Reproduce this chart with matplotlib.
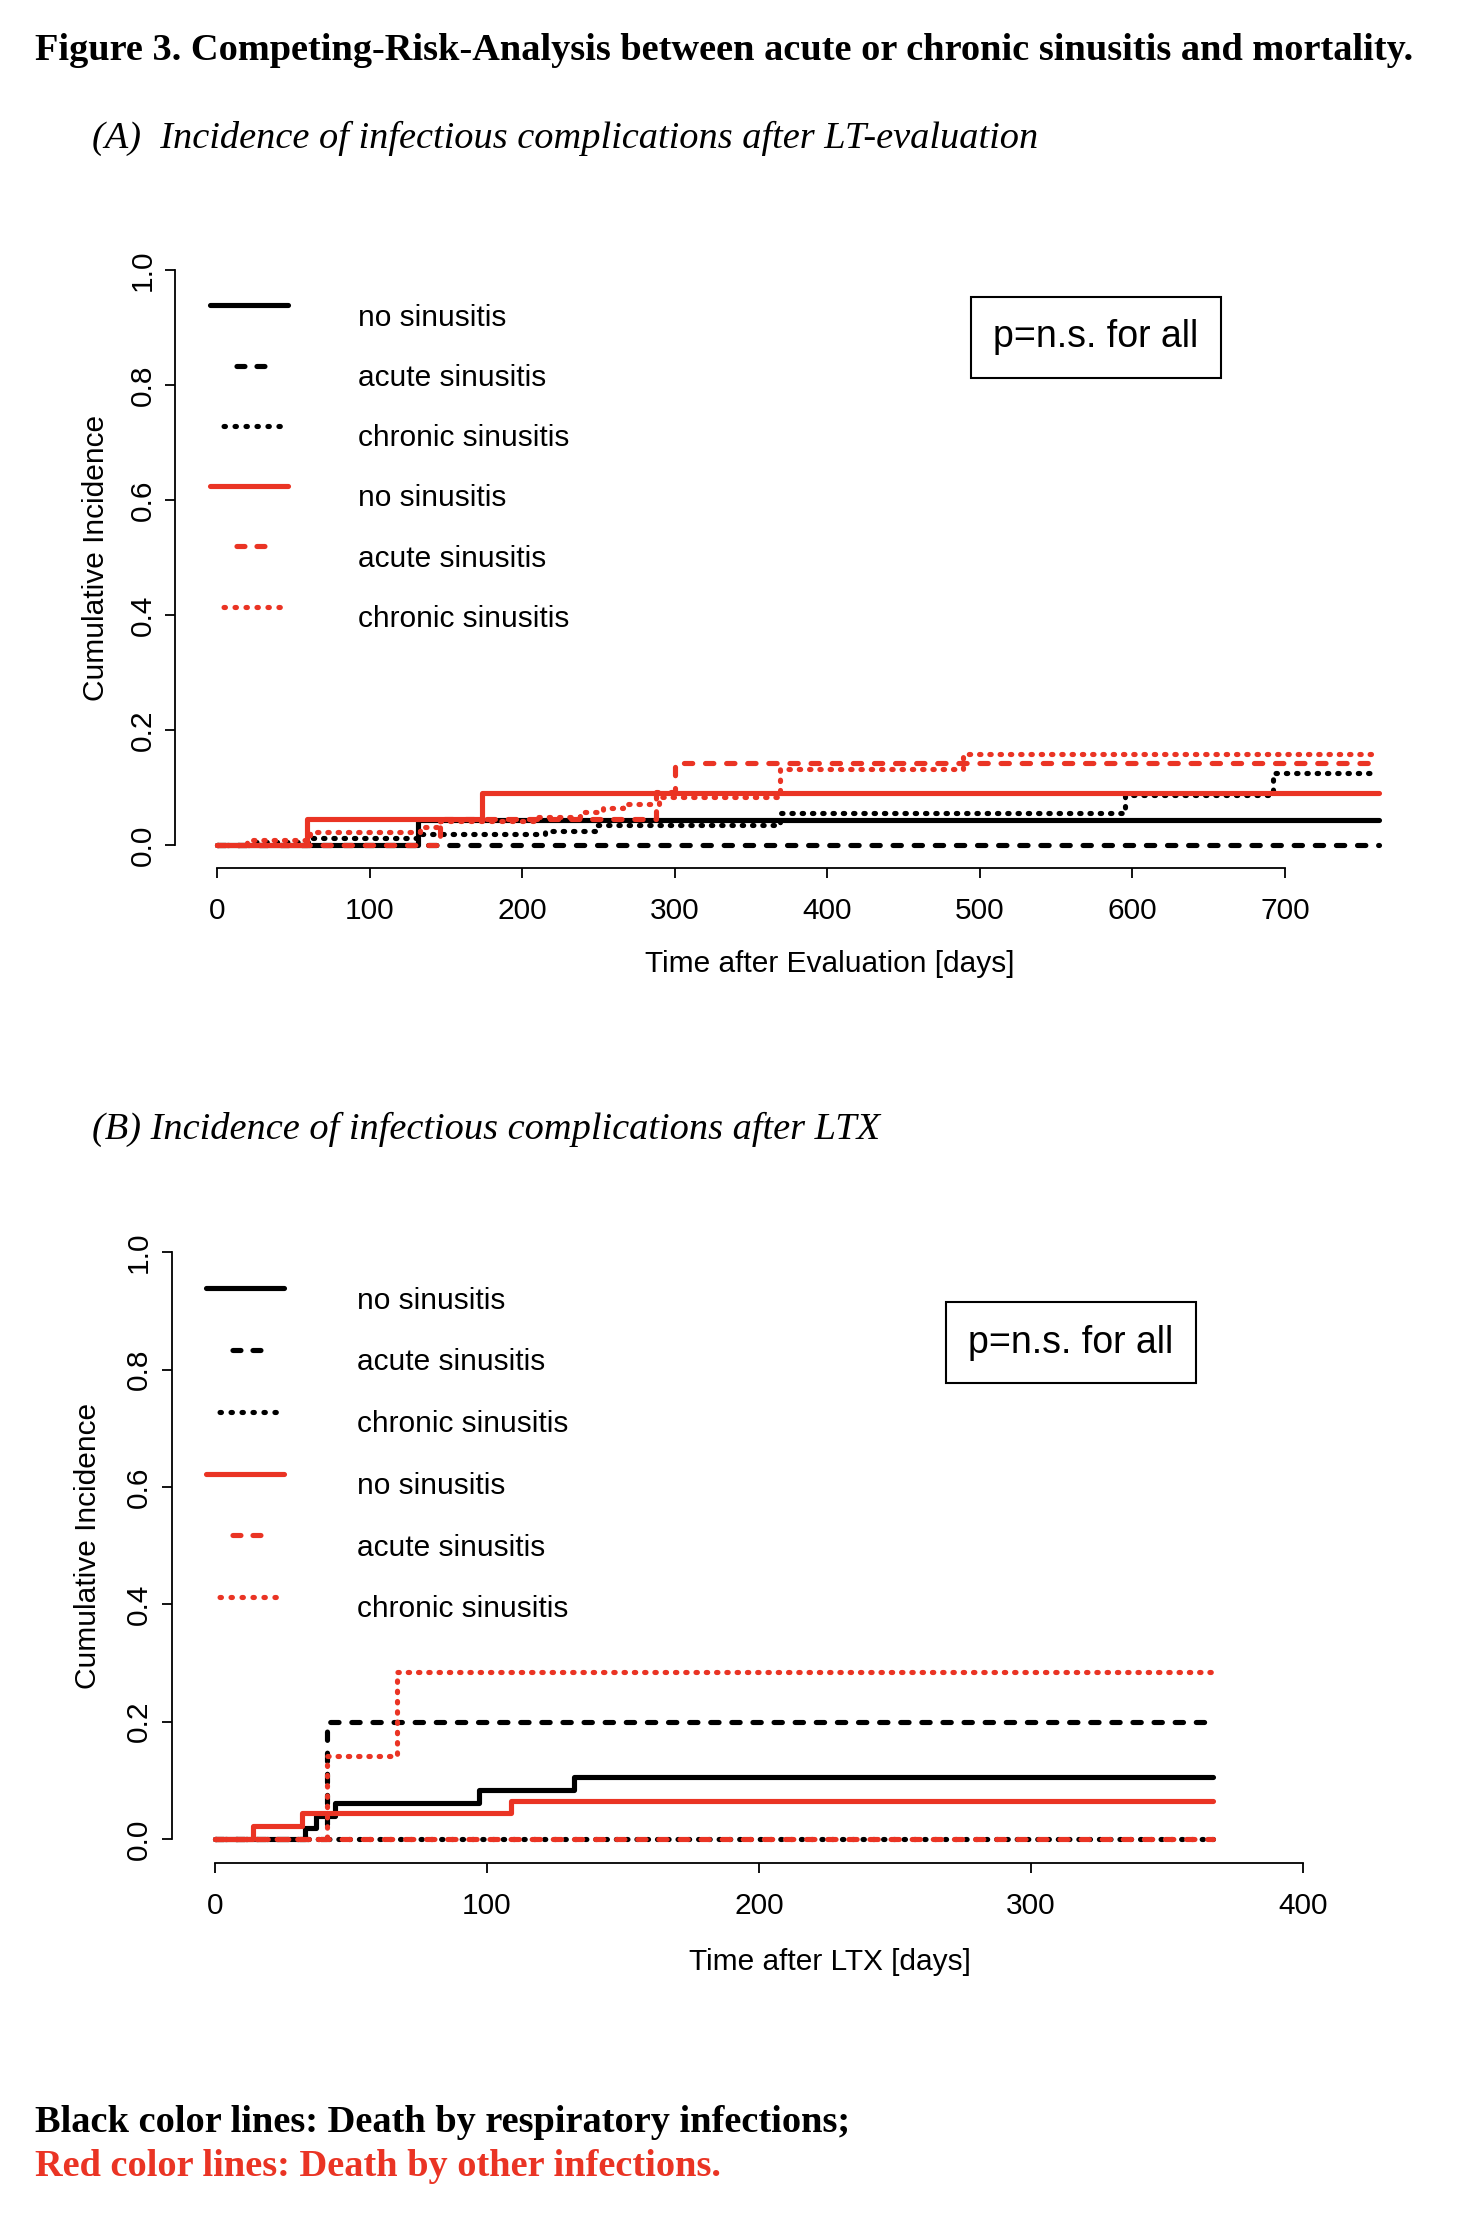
import matplotlib
matplotlib.use("Agg")
import matplotlib.pyplot as plt
from matplotlib.lines import Line2D
from matplotlib.legend_handler import HandlerLine2D

plt.rcParams['font.family'] = ['Liberation Sans', 'DejaVu Sans']
plt.rcParams['lines.scale_dashes'] = False

# ---------------- data ----------------
# Panel A: time after evaluation [days], cumulative incidence
a_black_solid_t = [0, 132, 762]
a_black_solid_v = [0, 0.043, 0.043]
a_black_dashed_t = [0, 762]
a_black_dashed_v = [0, 0]
a_black_dotted_t = [0, 22, 61, 133, 215, 249, 369, 595, 692, 757]
a_black_dotted_v = [0, 0.006, 0.013, 0.019, 0.024, 0.035, 0.056, 0.087, 0.125, 0.125]
a_red_solid_t = [0, 59, 174, 762]
a_red_solid_v = [0, 0.045, 0.091, 0.091]
a_red_dashed_t = [0, 146, 288, 300, 762]
a_red_dashed_v = [0, 0.045, 0.092, 0.142, 0.142]
a_red_dotted_t = [0, 20, 61, 133, 146, 210, 238, 253, 266, 290, 369, 489, 760]
a_red_dotted_v = [0, 0.009, 0.023, 0.032, 0.041, 0.049, 0.058, 0.064, 0.072, 0.084, 0.133, 0.158, 0.158]

# Panel B: time after LTX [days]
b_black_solid_t = [0, 33, 37, 44, 97, 132, 367]
b_black_solid_v = [0, 0.019, 0.040, 0.062, 0.083, 0.106, 0.106]
b_black_dashed_t = [0, 41, 364]
b_black_dashed_v = [0, 0.200, 0.200]
b_black_dotted_t = [0, 367]
b_black_dotted_v = [0, 0]
b_red_solid_t = [0, 14, 32, 109, 367]
b_red_solid_v = [0, 0.022, 0.045, 0.065, 0.065]
b_red_dashed_t = [0, 367]
b_red_dashed_v = [0, 0]
b_red_dotted_t = [0, 41, 67, 367]
b_red_dotted_v = [0, 0.142, 0.285, 0.285]

legend_labels = ["no sinusitis", "acute sinusitis", "chronic sinusitis",
                 "no sinusitis", "acute sinusitis", "chronic sinusitis"]
a_xticks = [0, 100, 200, 300, 400, 500, 600, 700]
b_xticks = [0, 100, 200, 300, 400]
yticks = [0.0, 0.2, 0.4, 0.6, 0.8, 1.0]

title = "Figure 3. Competing-Risk-Analysis between acute or chronic sinusitis and mortality."
sub_a = "(A)  Incidence of infectious complications after LT-evaluation"
sub_b = "(B) Incidence of infectious complications after LTX"
foot_black = "Black color lines: Death by respiratory infections;"
foot_red = "Red color lines: Death by other infections."

# ---------------- style ----------------
RED = '#EA3424'
BLK = '#000000'
LW = 3.7
FS = 21.5
SFS = 27.6
SOLID = '-'
DASH = (0, (6.0, 9.2))
DOT = (0, (1.0, 6.4))
LEG_DASH = (37.1, (5.76, 8.64, 5.76, 36.0))
LEG_DOT = (46.4, (1.0, 6.9, 1.0, 6.9, 1.0, 6.9, 1.0, 6.9, 1.0, 6.9, 1.0, 15.66))


class RaisedLine(HandlerLine2D):
    """Legend line sample drawn slightly above the text centre (as in R)."""
    def create_artists(self, legend, orig_handle, xdescent, ydescent,
                       width, height, fontsize, trans):
        return super().create_artists(legend, orig_handle, xdescent,
                                      ydescent - 14.0, width, height,
                                      fontsize, trans)


W, H = 1470, 2226
fig = plt.figure(figsize=(W / 100, H / 100), dpi=100)


def frac(l, t, r, b):
    return [l / W, 1 - b / H, (r - l) / W, (b - t) / H]


def panel(ax, series, xlim, xticks, xlabel, xlab_coords, ylab_coords,
          leg_anchor, leg_spacing, leg_textpad, pbox_xy):
    for t, v, c, ls in series:
        ax.step(t, v, where='post', color=c, lw=LW, linestyle=ls,
                dash_capstyle='round', solid_capstyle='round',
                solid_joinstyle='round', dash_joinstyle='round')
    ax.set_xlim(*xlim)
    ax.set_ylim(-0.04, 1.04)
    for s in ['top', 'right']:
        ax.spines[s].set_visible(False)
    ax.spines['left'].set_bounds(0, 1)
    ax.spines['bottom'].set_bounds(xticks[0], xticks[-1])
    for s in ['left', 'bottom']:
        ax.spines[s].set_linewidth(1.3)
    ax.set_xticks(xticks)
    ax.set_xticklabels([str(x) for x in xticks])
    ax.set_yticks(yticks)
    ax.set_yticklabels(["%.1f" % y for y in yticks])
    ax.tick_params(axis='both', length=7.2, width=1.3, labelsize=FS)
    ax.tick_params(axis='x', pad=14)
    ax.tick_params(axis='y', pad=6, labelrotation=90)
    for lab in ax.get_yticklabels():
        lab.set_va('center')
    ax.set_xlabel(xlabel, fontsize=FS)
    ax.xaxis.set_label_coords(*xlab_coords)
    ax.set_ylabel("Cumulative Incidence", fontsize=FS)
    ax.yaxis.set_label_coords(*ylab_coords)

    styles = [(BLK, SOLID), (BLK, LEG_DASH), (BLK, LEG_DOT),
              (RED, SOLID), (RED, LEG_DASH), (RED, LEG_DOT)]
    handles = [Line2D([], [], color=c, lw=LW, linestyle=ls,
                      dash_capstyle='round', solid_capstyle='round')
               for c, ls in styles]
    ax.legend(handles, legend_labels, loc='upper left', bbox_to_anchor=leg_anchor,
              frameon=False, fontsize=FS, handlelength=2.61, handletextpad=leg_textpad,
              labelspacing=leg_spacing, borderpad=0, borderaxespad=0,
              handler_map={Line2D: RaisedLine()})
    ax.text(pbox_xy[0], pbox_xy[1], "p=n.s. for all", ha='center', va='center',
            fontsize=27, bbox=dict(boxstyle='square,pad=0.6', fc='white',
                                   ec='black', lw=1.5))


axA = fig.add_axes(frac(175, 247, 1426, 868))
seriesA = [
    (a_black_solid_t, a_black_solid_v, BLK, SOLID),
    (a_black_dashed_t, a_black_dashed_v, BLK, DASH),
    (a_black_dotted_t, a_black_dotted_v, BLK, DOT),
    (a_red_solid_t, a_red_solid_v, RED, SOLID),
    (a_red_dashed_t, a_red_dashed_v, RED, DASH),
    (a_red_dotted_t, a_red_dotted_v, RED, DOT),
]
panel(axA, seriesA, (-27.5, 792.5), a_xticks, "Time after Evaluation [days]",
      (0.523, -0.1315), (-0.052, 0.5), (0.028, 0.909), 1.08, 2.34, (576, 0.883))

axB = fig.add_axes(frac(171.5, 1229, 1346.5, 1862.5))
seriesB = [
    (b_black_solid_t, b_black_solid_v, BLK, SOLID),
    (b_black_dashed_t, b_black_dashed_v, BLK, DASH),
    (b_black_dotted_t, b_black_dotted_v, BLK, DOT),
    (b_red_solid_t, b_red_solid_v, RED, SOLID),
    (b_red_dashed_t, b_red_dashed_v, RED, DASH),
    (b_red_dotted_t, b_red_dotted_v, RED, DOT),
]
panel(axB, seriesB, (-16, 416), b_xticks, "Time after LTX [days]",
      (0.560, -0.1345), (-0.059, 0.5), (0.029, 0.909), 1.13, 2.47, (314.7, 0.846))

serif = ['Liberation Serif', 'DejaVu Serif']
fig.text(35 / W, 1 - 50 / H, title, family=serif, weight='bold', fontsize=SFS,
         ha='left', va='center')
fig.text(92 / W, 1 - 138 / H, sub_a, family=serif, style='italic', fontsize=SFS,
         ha='left', va='center')
fig.text(92 / W, 1 - 1129 / H, sub_b, family=serif, style='italic', fontsize=SFS,
         ha='left', va='center')
fig.text(35 / W, 1 - 2122 / H, foot_black, family=serif, weight='bold', fontsize=SFS,
         ha='left', va='center', color='black')
fig.text(35 / W, 1 - 2166 / H, foot_red, family=serif, weight='bold', fontsize=SFS,
         ha='left', va='center', color=RED)

fig.savefig("out.png", dpi=100)
